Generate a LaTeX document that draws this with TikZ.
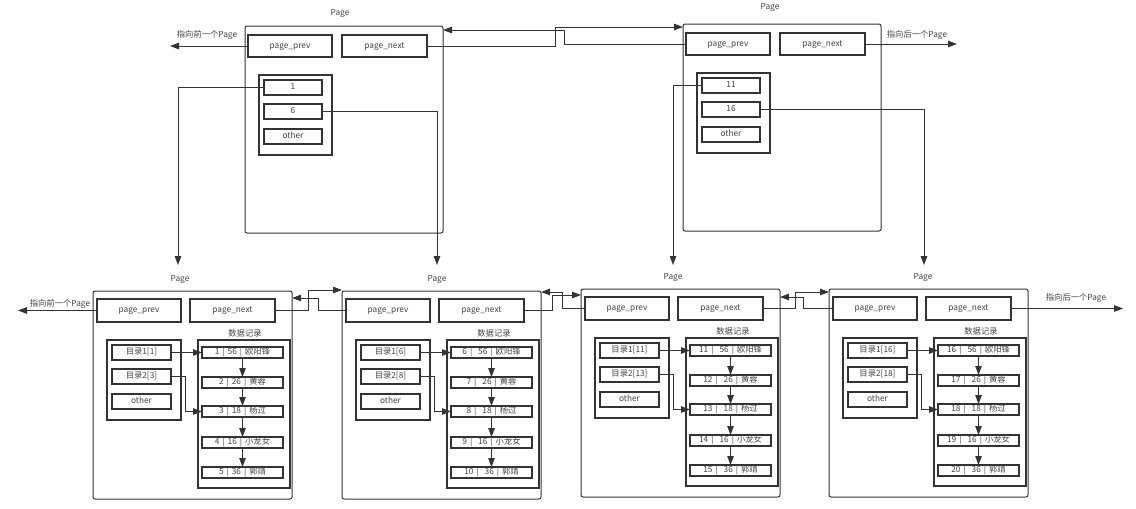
\documentclass[tikz,border=0pt]{standalone}
\usepackage{fontspec}
\setmainfont{Noto Sans CJK SC}
\usetikzlibrary{arrows.meta}
\definecolor{ln}{HTML}{333333}
\definecolor{tx}{HTML}{444444}
\tikzset{
  fbox/.style={draw=ln, line width=1.1pt, inner sep=0pt, outer sep=0pt, anchor=north west,
    text=tx, font=\fontsize{8.3}{9}\selectfont, text height=6pt, text depth=1.3pt},
  pagebox/.style={draw=ln, line width=1pt, rounded corners=2pt, inner sep=0pt, outer sep=0pt, anchor=north west},
  lbl/.style={text=tx, font=\fontsize{8.3}{9}\selectfont, inner sep=0pt},
  arr/.style={draw=ln, line width=1pt, -{Triangle[length=9pt,width=6.5pt]}},
}
\newcommand\rgap{\hspace{3pt}}
\newcommand\BPage[7]{%
  \node[pagebox, minimum width=199pt, minimum height=208pt] (#1) at (#2,#3) {};
  \node[fbox, minimum width=84pt, minimum height=23pt] (#1prev) at (#2+4,#3+8) {page\_prev};
  \node[fbox, minimum width=85pt, minimum height=23pt] (#1next) at (#2+97,#3+8) {page\_next};
  \node[fbox, minimum width=74pt, minimum height=80pt] (#1idx) at (#2+14,#3+49) {};
  \node[fbox, minimum width=59pt, minimum height=15pt] (#1k1) at (#2+19,#3+54) {#4};
  \node[fbox, minimum width=59pt, minimum height=15pt] (#1k2) at (#2+19,#3+78) {#5};
  \node[fbox, minimum width=59pt, minimum height=15pt] (#1k3) at (#2+19,#3+103) {other};
  \node[lbl] (#1dl) at (#2+152,#3+42) {数据记录};
  \node[fbox, minimum width=92pt, minimum height=148pt] (#1data) at (#2+105,#3+49) {};
  \foreach \i/\ag/\nm/\dy in {0/56/欧阳锋/56,1/26/黄蓉/86,2/18/杨过/115,3/16/小龙女/146,4/36/郭靖/176}{
    \pgfmathtruncatemacro\rid{#6+\i}
    \node[fbox, minimum width=81pt, minimum height=11pt] (#1r\i) at (#2+109,#3+\dy) {\rid\rgap|#7\rgap\ag\rgap|\rgap\nm};
  }
  \foreach \i in {0,...,3}{
    \pgfmathtruncatemacro\j{\i+1}
    \draw[arr] (#1r\i.south) -- (#1r\j.north);
  }
  \draw[arr] (#1k1.east) -- (#1r0.west);
  \draw[arr] (#1k2.east) -- ++(14,0) |- (#1r2.west);
}
\newcommand\TPage[5]{%
  \node[pagebox, minimum width=198pt, minimum height=207pt] (#1) at (#2,#3) {};
  \node[fbox, minimum width=84pt, minimum height=22pt] (#1prev) at (#2+3,#3+9) {page\_prev};
  \node[fbox, minimum width=85pt, minimum height=22pt] (#1next) at (#2+97,#3+9) {page\_next};
  \node[fbox, minimum width=73pt, minimum height=80pt] (#1idx) at (#2+14,#3+49) {};
  \node[fbox, minimum width=58pt, minimum height=15pt] (#1k1) at (#2+19,#3+54) {#4};
  \node[fbox, minimum width=58pt, minimum height=15pt] (#1k2) at (#2+19,#3+78) {#5};
  \node[fbox, minimum width=58pt, minimum height=15pt] (#1k3) at (#2+19,#3+103) {other};
}
\begin{document}
\begin{tikzpicture}[x=1pt,y=-1pt]
\fill[white] (0,0) rectangle (1136,509);
\useasboundingbox (0,0) rectangle (1136,509);

% top pages
\TPage{tl}{245}{26}{1}{6}
\TPage{tr}{683}{24}{11}{16}
\node[lbl] (tlt) at (340,13) {Page};
\node[lbl] (trt) at (770,7) {Page};

% bottom pages
\BPage{pa}{93}{291}{目录1[1]}{目录2[3]}{1}{}
\BPage{pb}{342}{291}{目录1[6]}{目录2[8]}{6}{\rgap}
\BPage{pc}{581}{289}{目录1[11]}{目录2[13]}{11}{\rgap}
\BPage{pd}{829}{289}{目录1[16]}{目录2[18]}{16}{\rgap}
\node[lbl] (pat) at (180,279) {Page};
\node[lbl] (pbt) at (437,279) {Page};
\node[lbl] (pct) at (673,277) {Page};
\node[lbl] (pdt) at (923,277) {Page};

% external pointers
\coordinate (e1) at (170,46);
\coordinate (e2) at (957,44);
\coordinate (e3) at (18,310.5);
\coordinate (e4) at (1123,308.5);
\draw[arr] (tlprev.west) -- (e1);
\draw[arr] (trnext.east) -- (e2);
\draw[arr] (paprev.west) -- (e3);
\draw[arr] (pdnext.east) -- (e4);
\node[lbl] (l1) at (207,35) {指向前一个Page};
\node[lbl] (l2) at (917,35) {指向后一个Page};
\node[lbl] (l3) at (60,304) {指向前一个Page};
\node[lbl] (l4) at (1076,298) {指向后一个Page};

% top links
\coordinate (tn) at (555,27);
\coordinate (tp) at (564,30);
\draw[arr] (tlnext.east) -| (tn) -- (tr.west |- tn);
\draw[arr] (trprev.west) -| (tp) -- (tl.east |- tp);

% down pointers
\coordinate (d1) at (178,265);
\coordinate (d2) at (437,265);
\coordinate (d3) at (673,265);
\coordinate (d4) at (924,265);
\draw[arr] (tlk1.west) -| (d1);
\draw[arr] (tlk2.east) -| (d2);
\draw[arr] (trk1.west) -| (d3);
\draw[arr] (trk2.east) -| (d4);

% bottom links
\coordinate (c1n) at (308,290);
\coordinate (c1p) at (318,298);
\draw[arr] (panext.east) -| (c1n) -- (pb.west |- c1n);
\draw[arr] (pbprev.west) -| (c1p) -- (pa.east |- c1p);
\coordinate (c2n) at (552,295);
\coordinate (c2p) at (562,292);
\draw[arr] (pbnext.east) -| (c2n) -- (pc.west |- c2n);
\draw[arr] (pcprev.west) -| (c2p) -- (pb.east |- c2p);
\coordinate (c3n) at (795,292);
\coordinate (c3p) at (803,297);
\draw[arr] (pcnext.east) -| (c3n) -- (pd.west |- c3n);
\draw[arr] (pdprev.west) -| (c3p) -- (pc.east |- c3p);
\end{tikzpicture}
\end{document}
